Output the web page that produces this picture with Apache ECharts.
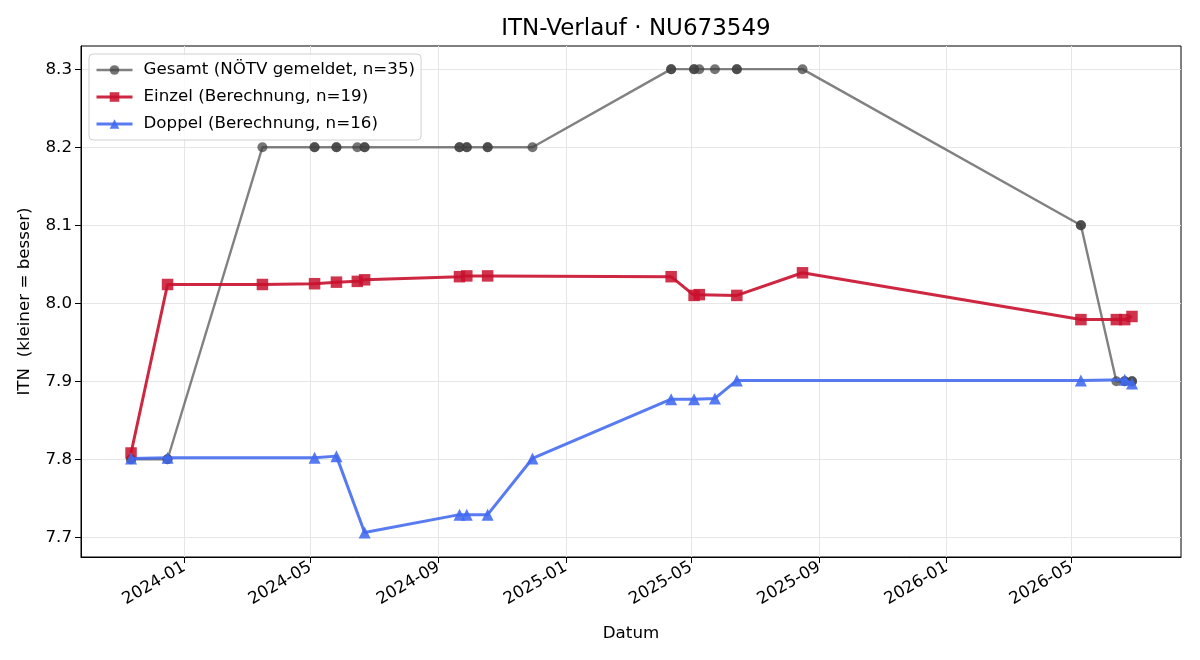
<!DOCTYPE html>
<html>
<head>
<meta charset="utf-8">
<script src="https://cdn.jsdelivr.net/npm/echarts@6/dist/echarts.min.js"></script>
<style>html,body{margin:0;padding:0;background:#fff;}#c{width:1200px;height:660px;}</style>
</head>
<body>
<div id="c"></div>
<script>
// ---- data ----
const einzelDates = ['2023-11-11','2023-12-16','2024-03-16','2024-05-05','2024-05-26','2024-06-15','2024-06-22','2024-09-21','2024-09-28','2024-10-18','2025-04-12','2025-05-04','2025-05-09','2025-06-14','2025-08-16','2026-05-10','2026-06-13','2026-06-21','2026-06-28'];
const einzelValues = [7.808,8.024,8.024,8.025,8.027,8.028,8.030,8.034,8.035,8.035,8.034,8.010,8.011,8.010,8.039,7.979,7.979,7.979,7.983];

const doppelDates = ['2023-11-11','2023-12-16','2024-05-05','2024-05-26','2024-06-22','2024-09-21','2024-09-28','2024-10-18','2024-11-30','2025-04-12','2025-05-04','2025-05-24','2025-06-14','2026-05-10','2026-06-21','2026-06-28'];
const doppelValues = [7.801,7.802,7.802,7.804,7.706,7.729,7.729,7.729,7.801,7.877,7.877,7.878,7.901,7.901,7.902,7.897];

const gesamtDates = ['2023-11-11','2023-11-11','2023-12-16','2023-12-16','2024-03-16','2024-05-05','2024-05-05','2024-05-26','2024-05-26','2024-06-15','2024-06-22','2024-06-22','2024-09-21','2024-09-21','2024-09-28','2024-09-28','2024-10-18','2024-10-18','2024-11-30','2025-04-12','2025-04-12','2025-05-04','2025-05-04','2025-05-09','2025-05-24','2025-06-14','2025-06-14','2025-08-16','2026-05-10','2026-05-10','2026-06-13','2026-06-21','2026-06-21','2026-06-28','2026-06-28'];
const gesamtValues = [7.8,7.8,7.8,7.8,8.2,8.2,8.2,8.2,8.2,8.2,8.2,8.2,8.2,8.2,8.2,8.2,8.2,8.2,8.2,8.3,8.3,8.3,8.3,8.3,8.3,8.3,8.3,8.3,8.1,8.1,7.9,7.9,7.9,7.9,7.9];

const xTicks = ['2024-01-01','2024-05-01','2024-09-01','2025-01-01','2025-05-01','2025-09-01','2026-01-01','2026-05-01'];
const yTicks = [7.7,7.8,7.9,8.0,8.1,8.2,8.3];
const xMin = '2023-09-24', xMax = '2026-08-14';
const yMin = 7.6747, yMax = 8.3297;

const seriesNames = ['Gesamt (NÖTV gemeldet, n=35)','Einzel (Berechnung, n=19)','Doppel (Berechnung, n=16)'];

// ---- chart ----
const FONT = 'DejaVu Sans';
const FS = 16.7;
const toTs = d => new Date(d + 'T00:00:00Z').getTime();
const fmtYM = v => { const d = new Date(v); return d.getUTCFullYear() + '-' + String(d.getUTCMonth() + 1).padStart(2, '0'); };
const pairs = (ds, vs) => ds.map((d, i) => [toTs(d), vs[i]]);
const xTickTs = xTicks.map(toTs);
const gridColor = '#e6e6e6';
const lineWidths = [2.4, 3, 3];

const chart = echarts.init(document.getElementById('c'), null, {renderer: 'canvas'});
chart.setOption({
  animation: false,
  backgroundColor: '#fff',
  textStyle: {fontFamily: FONT},
  title: {
    text: 'ITN-Verlauf · NU673549',
    left: 631, top: 13, textAlign: 'center',
    textStyle: {fontFamily: FONT, fontSize: 23, fontWeight: 'normal', color: '#000'}
  },
  legend: {
    orient: 'vertical',
    left: 89, top: 54, z: 20,
    padding: [6, 6, 6, 6],
    itemWidth: 36, itemHeight: 12, itemGap: 7,
    backgroundColor: 'rgba(255,255,255,0.8)',
    borderColor: '#d0d0d0', borderWidth: 1, borderRadius: 4,
    textStyle: {fontFamily: FONT, fontSize: FS, color: '#000', lineHeight: 20, padding: [0, 0, 0, 6]},
    data: seriesNames.map((n, i) => ({name: n, lineStyle: {width: lineWidths[i]}}))
  },
  grid: {left: 81, right: 19, top: 46, bottom: 103, show: true, borderColor: '#000', borderWidth: 1, backgroundColor: 'transparent'},
  xAxis: {
    type: 'value',
    min: toTs(xMin), max: toTs(xMax),
    name: 'Datum', nameLocation: 'middle', nameGap: 68,
    nameTextStyle: {fontFamily: FONT, fontSize: FS, color: '#000'},
    axisLine: {show: true, onZero: false, lineStyle: {color: '#000', width: 1}},
    axisTick: {show: true, length: 6, lineStyle: {color: '#000'}, customValues: xTickTs},
    axisLabel: {
      rotate: 30, margin: 9, fontFamily: FONT, fontSize: FS, color: '#000',
      customValues: xTickTs, showMinLabel: true, showMaxLabel: true,
      formatter: v => fmtYM(v)
    },
    splitLine: {show: false}
  },
  yAxis: {
    type: 'value',
    min: yMin, max: yMax,
    name: 'ITN  (kleiner = besser)', nameLocation: 'middle', nameGap: 48,
    nameTextStyle: {fontFamily: FONT, fontSize: FS, color: '#000'},
    axisLine: {show: true, onZero: false, lineStyle: {color: '#000', width: 1}},
    axisTick: {show: true, length: 6, lineStyle: {color: '#000'}, customValues: yTicks},
    axisLabel: {margin: 9, fontFamily: FONT, fontSize: FS, color: '#000', customValues: yTicks,
      formatter: v => v.toFixed(1)},
    splitLine: {show: false}
  },
  series: [
    {
      name: '__grid', type: 'line', data: [], silent: true, legendHoverLink: false, z: 0,
      markLine: {
        silent: true, symbol: 'none', label: {show: false}, animation: false, z: 0,
        lineStyle: {color: gridColor, width: 1, type: 'solid'},
        data: xTickTs.map(t => ({xAxis: t})).concat(yTicks.map(v => ({yAxis: v})))
      }
    },
    {
      name: seriesNames[0], type: 'line', data: pairs(gesamtDates, gesamtValues),
      symbol: 'circle', symbolSize: 10,
      lineStyle: {color: 'rgba(80,80,80,0.72)', width: lineWidths[0]},
      itemStyle: {color: 'rgba(64,64,64,0.72)', borderWidth: 0},
      z: 3
    },
    {
      name: seriesNames[1], type: 'line', data: pairs(einzelDates, einzelValues),
      symbol: 'rect', symbolSize: 11.5,
      lineStyle: {color: 'rgba(200,16,46,0.9)', width: lineWidths[1]},
      itemStyle: {color: 'rgba(200,16,46,0.85)', borderWidth: 0},
      z: 4
    },
    {
      name: seriesNames[2], type: 'line', data: pairs(doppelDates, doppelValues),
      symbol: 'triangle', symbolSize: 12,
      lineStyle: {color: 'rgba(65,105,240,0.88)', width: lineWidths[2]},
      itemStyle: {color: 'rgba(65,105,240,0.88)', borderWidth: 0},
      z: 5
    }
  ]
});
</script>
</body>
</html>
